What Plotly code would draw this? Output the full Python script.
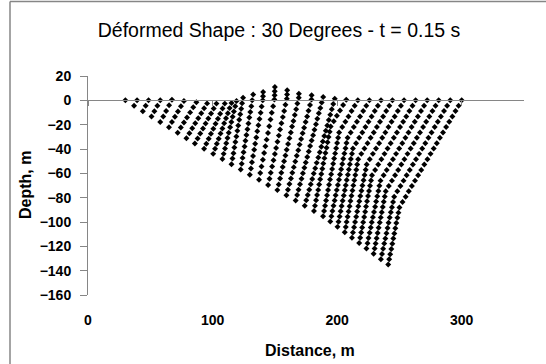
import plotly.graph_objects as go

# Distance (m) of each mesh node, one list per column (left to right, top node first)
col_x = [
    [30.0],
    [39.4, 37.0],
    [48.6, 46.3, 44.0],
    [58.0, 55.7, 53.3, 51.0],
    [67.4, 65.1, 62.7, 60.4, 58.0],
    [77.0, 74.6, 72.2, 69.8, 67.4, 65.0],
    [87.0, 84.5, 82.0, 79.5, 77.0, 74.5, 72.0],
    [95.6, 93.2, 90.9, 88.5, 86.1, 83.7, 81.4, 79.0],
    [103.1, 100.9, 98.8, 96.6, 94.4, 92.3, 90.1, 88.0, 85.8],
    [109.8, 108.0, 106.1, 104.3, 102.4, 100.6, 98.7, 96.9, 95.0, 93.2],
    [115.2, 113.7, 112.3, 110.8, 109.3, 107.9, 106.4, 104.9, 103.4, 102.0, 100.5],
    [119.2, 118.2, 117.1, 116.1, 115.1, 114.1, 113.0, 112.0, 111.0, 110.0, 108.9, 107.9],
    [124.5, 123.7, 123.0, 122.2, 121.4, 120.6, 119.9, 119.1, 118.3, 117.5, 116.8, 116.0, 115.2],
    [132.6, 131.8, 131.1, 130.3, 129.5, 128.8, 128.0, 127.2, 126.4, 125.7, 124.9, 124.1, 123.4, 122.6],
    [140.6, 140.5, 140.3, 139.4, 138.6, 137.7, 136.8, 135.9, 135.1, 134.2, 133.4, 132.5, 131.6, 130.8, 129.9],
    [150.0, 149.9, 149.8, 149.6, 148.6, 147.5, 146.5, 145.5, 144.5, 143.4, 142.4, 141.4, 140.4, 139.3, 138.3, 137.3],
    [159.9, 159.8, 159.6, 158.5, 157.5, 156.4, 155.3, 154.2, 153.2, 152.1, 151.0, 150.0, 148.9, 147.8, 146.7, 145.7, 144.6],
    [169.3, 169.2, 168.1, 167.1, 166.0, 164.9, 163.8, 162.8, 161.7, 160.6, 159.5, 158.5, 157.4, 156.3, 155.2, 154.2, 153.1, 152.0],
    [179.5, 179.4, 178.2, 177.0, 175.9, 174.7, 173.5, 172.3, 171.1, 169.9, 168.8, 167.6, 166.4, 165.2, 164.0, 162.9, 161.7, 160.5, 159.3],
    [188.8, 187.6, 186.5, 185.3, 184.1, 183.0, 181.8, 180.7, 179.5, 178.3, 177.2, 176.0, 174.8, 173.7, 172.5, 171.4, 170.2, 169.0, 167.9, 166.7],
    [198.1, 196.9, 195.7, 194.5, 193.3, 192.1, 190.9, 189.7, 188.5, 187.3, 186.1, 184.9, 183.6, 182.4, 181.2, 180.0, 178.8, 177.6, 176.4, 175.2, 174.0],
    [207.3, 204.8, 202.3, 199.8, 197.3, 194.8, 194.0, 193.1, 192.3, 191.5, 190.6, 189.8, 188.9, 188.1, 187.3, 186.4, 185.6, 184.8, 183.9, 183.1, 182.2, 181.4],
    [216.6, 214.1, 211.6, 209.1, 206.6, 204.1, 201.6, 200.8, 200.0, 199.2, 198.4, 197.6, 196.8, 196.0, 195.2, 194.3, 193.5, 192.7, 191.9, 191.1, 190.3, 189.5, 188.7],
    [225.9, 223.4, 220.9, 218.4, 215.9, 213.4, 210.9, 208.4, 207.5, 206.7, 205.8, 204.9, 204.1, 203.2, 202.3, 201.5, 200.6, 199.7, 198.8, 198.0, 197.1, 196.2, 195.4, 194.5],
    [235.2, 232.7, 230.2, 227.7, 225.2, 222.7, 220.2, 217.7, 215.2, 212.7, 211.9, 211.0, 210.2, 209.4, 208.6, 207.7, 206.9, 206.1, 205.3, 204.4, 203.6, 202.8, 202.0, 201.1, 200.3],
    [244.4, 241.9, 239.4, 236.9, 234.4, 231.9, 229.4, 226.9, 224.4, 221.9, 219.4, 216.9, 216.1, 215.4, 214.6, 213.8, 213.0, 212.3, 211.5, 210.7, 210.0, 209.2, 208.4, 207.6, 206.9, 206.1],
    [253.7, 251.2, 248.7, 246.2, 243.7, 241.2, 238.7, 236.2, 233.7, 231.2, 228.7, 226.2, 223.7, 222.9, 222.0, 221.2, 220.3, 219.5, 218.6, 217.8, 217.0, 216.1, 215.3, 214.4, 213.6, 212.7, 211.9],
    [263.0, 260.5, 258.0, 255.5, 253.0, 250.5, 248.0, 245.5, 243.0, 240.5, 238.0, 235.5, 233.0, 230.5, 228.0, 227.2, 226.4, 225.6, 224.8, 224.0, 223.2, 222.5, 221.7, 220.9, 220.1, 219.3, 218.5, 217.7],
    [272.3, 269.8, 267.3, 264.8, 262.3, 259.8, 257.3, 254.8, 252.3, 249.8, 247.3, 244.8, 242.3, 239.8, 237.3, 234.8, 233.9, 233.1, 232.2, 231.3, 230.5, 229.6, 228.7, 227.8, 227.0, 226.1, 225.2, 224.4, 223.5],
    [281.5, 279.0, 276.5, 274.0, 271.5, 269.0, 266.5, 264.0, 261.5, 259.0, 256.5, 254.0, 251.5, 249.0, 246.5, 244.0, 241.5, 239.0, 238.2, 237.4, 236.6, 235.8, 235.0, 234.2, 233.3, 232.5, 231.7, 230.9, 230.1, 229.3],
    [290.8, 288.3, 285.8, 283.3, 280.8, 278.3, 275.8, 273.3, 270.8, 268.3, 265.8, 263.3, 260.8, 258.3, 255.8, 253.3, 250.8, 248.3, 245.8, 244.9, 244.0, 243.1, 242.2, 241.3, 240.5, 239.6, 238.7, 237.8, 236.9, 236.0, 235.1],
    [300.0, 297.5, 295.0, 292.5, 290.0, 287.5, 285.0, 282.5, 280.0, 277.5, 275.0, 272.5, 270.0, 267.5, 265.0, 262.5, 260.0, 257.5, 255.0, 252.5, 250.0, 249.2, 248.4, 247.5, 246.7, 245.9, 245.1, 244.3, 243.5, 242.6, 241.8, 241.0],
]

# Depth (m) of each mesh node, same layout as col_x
col_y = [
    [0.0],
    [0.0, -4.4],
    [0.0, -4.4, -8.9],
    [0.0, -4.4, -8.9, -13.3],
    [0.5, -4.1, -8.7, -13.2, -17.8],
    [-0.5, -4.8, -9.2, -13.5, -17.9, -22.2],
    [-1.5, -5.7, -9.9, -14.1, -18.2, -22.4, -26.6],
    [-2.5, -6.6, -10.7, -14.8, -18.8, -22.9, -27.0, -31.1],
    [-2.7, -6.8, -10.9, -15.0, -19.1, -23.2, -27.3, -31.4, -35.5],
    [-2.7, -6.8, -11.0, -15.1, -19.2, -23.3, -27.4, -31.6, -35.7, -39.8],
    [-2.2, -6.4, -10.6, -14.7, -18.9, -23.1, -27.3, -31.5, -35.6, -39.8, -44.0],
    [-0.5, -4.8, -9.2, -13.5, -17.9, -22.2, -26.6, -30.9, -35.3, -39.6, -44.0, -48.3],
    [2.2, -2.4, -6.9, -11.5, -16.0, -20.6, -25.1, -29.7, -34.3, -38.8, -43.4, -47.9, -52.5],
    [4.7, 0.0, -4.8, -9.5, -14.2, -19.0, -23.7, -28.4, -33.2, -37.9, -42.6, -47.3, -52.1, -56.8],
    [6.8, 3.4, 0.0, -5.1, -10.2, -15.3, -20.4, -25.5, -30.6, -35.6, -40.7, -45.8, -50.9, -56.0, -61.1],
    [10.9, 7.5, 4.1, 0.7, -4.8, -10.3, -15.8, -21.3, -26.8, -32.3, -37.8, -43.3, -48.8, -54.3, -59.8, -65.3],
    [8.2, 4.8, 1.4, -3.7, -8.7, -13.8, -18.9, -24.0, -29.0, -34.1, -39.2, -44.2, -49.3, -54.4, -59.5, -64.5, -69.6],
    [5.5, 2.1, -2.6, -7.4, -12.1, -16.9, -21.6, -26.4, -31.1, -35.8, -40.6, -45.3, -50.1, -54.8, -59.6, -64.3, -69.1, -73.8],
    [4.1, 0.7, -3.9, -8.6, -13.2, -17.8, -22.5, -27.1, -31.7, -36.4, -41.0, -45.6, -50.3, -54.9, -59.6, -64.2, -68.8, -73.5, -78.1],
    [2.7, -1.8, -6.3, -10.7, -15.2, -19.7, -24.2, -28.7, -33.1, -37.6, -42.1, -46.6, -51.1, -55.5, -60.0, -64.5, -69.0, -73.4, -77.9, -82.4],
    [1.4, -3.0, -7.4, -11.8, -16.2, -20.6, -25.0, -29.4, -33.8, -38.2, -42.6, -47.0, -51.4, -55.8, -60.2, -64.6, -69.0, -73.4, -77.8, -82.2, -86.6],
    [0.5, -3.9, -8.3, -12.7, -17.1, -21.5, -25.8, -30.2, -34.5, -38.9, -43.2, -47.5, -51.9, -56.2, -60.5, -64.9, -69.2, -73.6, -77.9, -82.2, -86.6, -90.9],
    [0.0, -4.4, -8.8, -13.2, -17.6, -22.0, -26.4, -30.7, -35.0, -39.3, -43.6, -47.9, -52.2, -56.5, -60.8, -65.1, -69.4, -73.7, -78.0, -82.3, -86.6, -90.9, -95.2],
    [0.0, -4.4, -8.8, -13.2, -17.6, -22.0, -26.4, -30.8, -35.1, -39.4, -43.7, -48.0, -52.3, -56.6, -60.9, -65.2, -69.5, -73.8, -78.1, -82.4, -86.7, -91.0, -95.3, -99.6],
    [0.0, -4.4, -8.8, -13.2, -17.6, -22.0, -26.4, -30.8, -35.2, -39.6, -43.9, -48.2, -52.5, -56.8, -61.1, -65.4, -69.7, -73.9, -78.2, -82.5, -86.8, -91.1, -95.4, -99.7, -104.0],
    [0.0, -4.4, -8.8, -13.2, -17.6, -22.0, -26.4, -30.8, -35.2, -39.6, -44.0, -48.4, -52.7, -57.0, -61.3, -65.6, -69.9, -74.2, -78.5, -82.7, -87.0, -91.3, -95.6, -99.9, -104.2, -108.5],
    [0.0, -4.4, -8.8, -13.2, -17.6, -22.0, -26.4, -30.8, -35.2, -39.6, -44.0, -48.4, -52.8, -57.1, -61.4, -65.7, -70.0, -74.3, -78.6, -82.9, -87.1, -91.4, -95.7, -100.0, -104.3, -108.6, -112.9],
    [0.0, -4.4, -8.8, -13.2, -17.6, -22.0, -26.4, -30.8, -35.2, -39.6, -44.0, -48.4, -52.8, -57.2, -61.6, -65.9, -70.2, -74.5, -78.7, -83.0, -87.3, -91.6, -95.9, -100.2, -104.5, -108.7, -113.0, -117.3],
    [0.0, -4.4, -8.8, -13.2, -17.6, -22.0, -26.4, -30.8, -35.2, -39.6, -44.0, -48.4, -52.8, -57.2, -61.6, -66.0, -70.3, -74.6, -78.9, -83.1, -87.4, -91.7, -96.0, -100.3, -104.6, -108.9, -113.1, -117.4, -121.7],
    [0.0, -4.4, -8.8, -13.2, -17.6, -22.0, -26.4, -30.8, -35.2, -39.6, -44.0, -48.4, -52.8, -57.2, -61.6, -66.0, -70.4, -74.8, -79.1, -83.4, -87.6, -91.9, -96.2, -100.5, -104.7, -109.0, -113.3, -117.6, -121.8, -126.1],
    [0.0, -4.4, -8.8, -13.2, -17.6, -22.0, -26.4, -30.8, -35.2, -39.6, -44.0, -48.4, -52.8, -57.2, -61.6, -66.0, -70.4, -74.8, -79.2, -83.5, -87.8, -92.0, -96.3, -100.6, -104.9, -109.2, -113.5, -117.7, -122.0, -126.3, -130.6],
    [0.0, -4.4, -8.8, -13.2, -17.6, -22.0, -26.4, -30.8, -35.2, -39.6, -44.0, -48.4, -52.8, -57.2, -61.6, -66.0, -70.4, -74.8, -79.2, -83.6, -88.0, -92.3, -96.5, -100.8, -105.1, -109.4, -113.6, -117.9, -122.2, -126.5, -130.7, -135.0],
]

x_ticks = [0, 100, 200, 300]
y_ticks = [20, 0, -20, -40, -60, -80, -100, -120, -140, -160]
title_text = "Déformed Shape : 30 Degrees - t = 0.15 s"
x_title = "Distance, m"
y_title = "Depth, m"

xs = [v for col in col_x for v in col]
ys = [v for col in col_y for v in col]

F = "Liberation Sans, Arial, sans-serif"
GREY = "#868686"

fig = go.Figure()
fig.add_trace(go.Scatter(x=xs, y=ys, mode="markers",
                         marker=dict(symbol="diamond", size=4.6, color="black", line=dict(width=0)),
                         showlegend=False, hoverinfo="skip"))
# invisible helper so the y = 0 axis (xaxis2) is drawn
fig.add_trace(go.Scatter(x=[x_ticks[0]], y=[0], xaxis="x2", mode="markers",
                         marker=dict(size=1, opacity=0), showlegend=False, hoverinfo="skip"))

fig.update_layout(
    width=546, height=364,
    margin=dict(l=88, r=22, t=76, b=69),
    paper_bgcolor="white", plot_bgcolor="white",
    title=dict(text=title_text, x=279 / 546, xanchor="center", xref="container",
               y=1 - 30 / 364, yanchor="middle", font=dict(family=F, size=19.5, color="black")),
    xaxis=dict(range=[0, 350], tickvals=x_ticks, showline=False, showgrid=False, zeroline=False,
               ticks="", ticklabelstandoff=15,
               tickfont=dict(family=F, size=14, color="black", weight="bold")),
    xaxis2=dict(range=[0, 350], tickvals=x_ticks, overlaying="x", anchor="free",
                position=160 / 180, showline=True, linecolor=GREY, linewidth=1,
                ticks="outside", ticklen=5, tickcolor=GREY, showticklabels=False,
                showgrid=False, zeroline=False),
    yaxis=dict(range=[-160, 20], tickvals=y_ticks, showline=True, linecolor=GREY, linewidth=1,
               ticks="outside", ticklen=7, tickcolor=GREY, showgrid=False, zeroline=False,
               ticklabelstandoff=6,
               tickfont=dict(family=F, size=14, color="black", weight="bold")),
    annotations=[
        dict(text=x_title, xref="paper", yref="paper", x=(310 - 88) / 436, y=(295 - 350) / 219,
             xanchor="center", yanchor="middle", showarrow=False,
             font=dict(family=F, size=16, color="black", weight="bold")),
        dict(text=y_title, xref="paper", yref="paper", x=(25 - 88) / 436, y=(295 - 185) / 219,
             xanchor="center", yanchor="middle", showarrow=False, textangle=-90,
             font=dict(family=F, size=16, color="black", weight="bold")),
    ],
    shapes=[
        dict(type="line", xref="paper", yref="paper", x0=(10 - 88) / 436, x1=(546 - 88) / 436,
             y0=(295 - 1.5) / 219, y1=(295 - 1.5) / 219, line=dict(color=GREY, width=1.5)),
        dict(type="line", xref="paper", yref="paper", x0=(10 - 88) / 436, x1=(10 - 88) / 436,
             y0=(295 - 1.5) / 219, y1=(295 - 364) / 219, line=dict(color=GREY, width=1.5)),
    ],
)
fig.write_html("out.html", config={"displayModeBar": False},
               post_script="document.body.style.margin='0px';")
